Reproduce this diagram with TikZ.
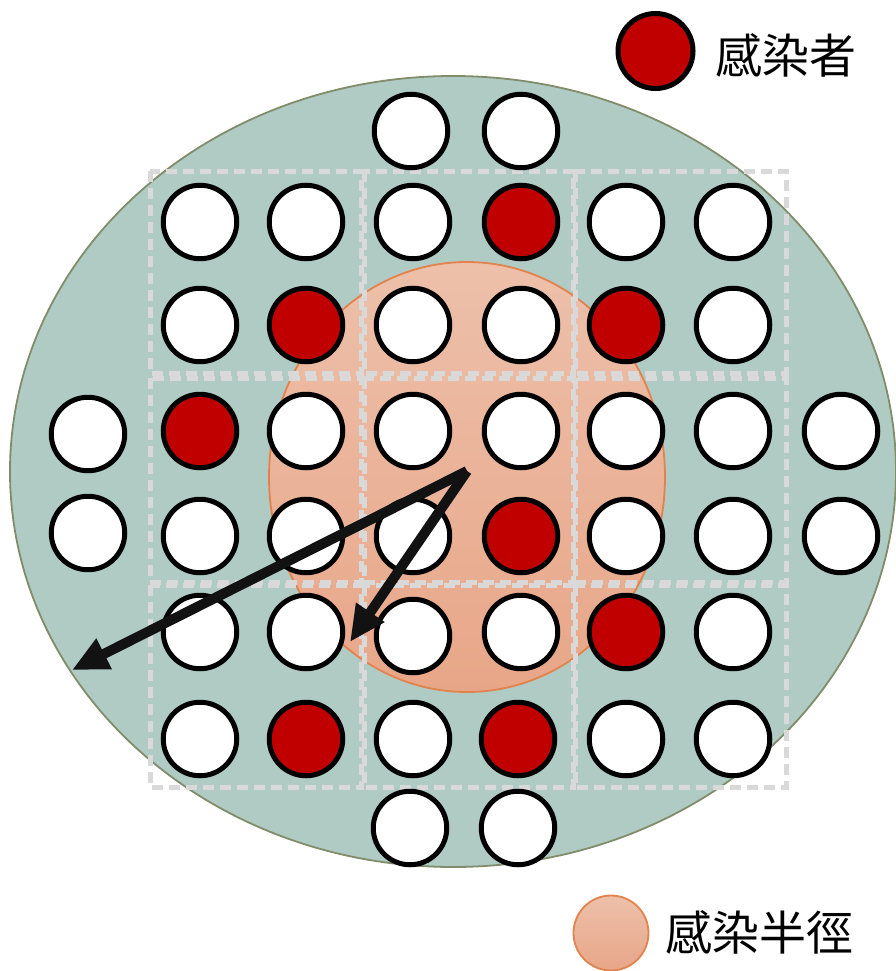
\documentclass[tikz,border=0pt]{standalone}
\usepackage{fontspec}
\newfontfamily\cjk{Noto Sans CJK TC}
\usetikzlibrary{arrows.meta}
\definecolor{bgfill}{RGB}{176,203,196}
\definecolor{bgedge}{RGB}{128,140,106}
\definecolor{infred}{RGB}{192,0,0}
\definecolor{rtop}{RGB}{237,192,170}
\definecolor{rbot}{RGB}{232,166,136}
\definecolor{redge}{RGB}{226,130,76}
\definecolor{gridgray}{RGB}{217,217,217}
\begin{document}
\begin{tikzpicture}[x=1pt,y=-1pt,
  person/.style={circle,draw=black,line width=5pt,fill=white,minimum size=73.5pt,inner sep=0pt},
  infected/.style={person,fill=infred},
  cell/.style={draw=gridgray,line width=5pt,dash pattern=on 11pt off 6pt},
  arr/.style={draw=black!93,line width=10pt,-{Triangle[length=36pt,width=32pt]}},
  legtext/.style={anchor=west,inner sep=0pt,font=\cjk\fontsize{47}{53}\selectfont}]
\useasboundingbox (0,0) rectangle (896,971);
% big area
\draw[fill=bgfill,draw=bgedge,line width=1.8pt] (453,471.5) ellipse [x radius=443, y radius=395.5];
% infection radius
\shade[top color=rtop,bottom color=rbot] (467,477) ellipse [x radius=198, y radius=215];
\draw[redge,line width=1.8pt] (467,477) ellipse [x radius=198, y radius=215];
% dashed grid
\foreach \xa/\xb in {150/361,364/573,575/786}
  \foreach \ya/\yb in {171/373,378/582,585/787}
    \draw[cell] (\xa,\ya) rectangle (\xb,\yb);
% people
\node[person] (p01) at (411,131) {};
\node[person] (p02) at (521,131) {};
\node[person] (p11) at (200,222) {};
\node[person] (p12) at (306,222) {};
\node[person] (p13) at (413,222) {};
\node[infected] (p14) at (521,222) {};
\node[person] (p15) at (626,222) {};
\node[person] (p16) at (733,222) {};
\node[person] (p21) at (200,325) {};
\node[infected] (p22) at (306,325) {};
\node[person] (p23) at (413,325) {};
\node[person] (p24) at (521,325) {};
\node[infected] (p25) at (626,325) {};
\node[person] (p26) at (733,325) {};
\node[person] (p30) at (88,434) {};
\node[infected] (p31) at (200,431) {};
\node[person] (p32) at (306,431) {};
\node[person] (p33) at (413,431) {};
\node[person] (p34) at (521,431) {};
\node[person] (p35) at (626,431) {};
\node[person] (p36) at (733,431) {};
\node[person] (p37) at (841,431) {};
\node[person] (p40) at (88,533) {};
\node[person] (p41) at (200,536) {};
\node[person] (p42) at (306,536) {};
\node[person] (p43) at (413,536) {};
\node[infected] (p44) at (521,536) {};
\node[person] (p45) at (626,536) {};
\node[person] (p46) at (733,536) {};
\node[person] (p47) at (841,536) {};
\node[person] (p51) at (200,632) {};
\node[person] (p52) at (306,632) {};
\node[person] (p53) at (413,636) {};
\node[person] (p54) at (521,632) {};
\node[infected] (p55) at (626,632) {};
\node[person] (p56) at (733,632) {};
\node[person] (p61) at (200,739) {};
\node[infected] (p62) at (306,739) {};
\node[person] (p63) at (413,739) {};
\node[infected] (p64) at (518,739) {};
\node[person] (p65) at (626,739) {};
\node[person] (p66) at (733,739) {};
\node[person] (p71) at (410,828) {};
\node[person] (p72) at (518,828) {};
% radius arrows
\coordinate (src) at (467,471);
\coordinate (farend) at (72,670);
\coordinate (nearend) at (350,642);
\draw[arr] (src) -- (farend);
\draw[arr] (src) -- (nearend);
% legend
\node[infected,minimum size=75pt] (leg1) at (655.5,51) {};
\node[legtext] (leg1t) at (715,55) {感染者};
\node[circle,minimum size=75pt,inner sep=0pt,top color=rtop,bottom color=rbot,draw=redge,line width=1.8pt] (leg2) at (611,933) {};
\node[legtext] (leg2t) at (665,932) {感染半徑};
\end{tikzpicture}
\end{document}
